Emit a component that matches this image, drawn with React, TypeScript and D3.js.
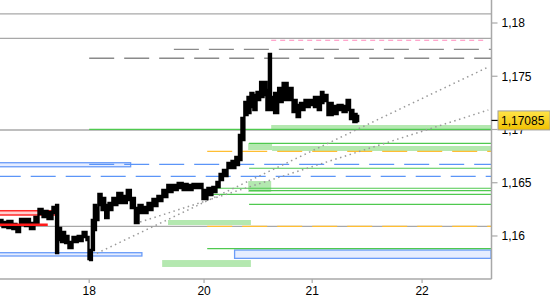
import React from 'react';
import * as d3 from 'd3';

const W = 550;
const H = 300;

// price series (hours from left edge, high / low)
const hours = [0.0,1.1,2.2,3.3,4.0,4.9,6.2,7.1,8.2,8.9,10.0,11.1,12.2,12.7,13.1,14.0,14.9,15.5,16.7,17.8,18.9,19.5,19.8,20.2,20.6,21.1,21.5,22.2,22.9,23.8,24.4,25.5,26.6,27.7,28.6,29.5,30.4,31.1,32.2,33.3,34.4,35.5,36.6,37.7,38.9,40.0,41.1,42.2,43.3,44.4,45.5,46.6,47.7,48.4,49.1,49.9,51.1,51.7,52.8,53.3,53.9,54.6,55.3,55.9,56.6,57.3,58.2,58.8,59.5,59.9,60.4,61.3,62.2,63.3,64.4,65.5,66.2,67.0,68.2,69.3,70.1,71.0,71.5,72.1,73.3,74.4,75.5,76.6,77.3,78.1,78.8,79.5];
const highs = [1.16150,1.16131,1.16141,1.16112,1.16094,1.16159,1.16159,1.16122,1.16178,1.16253,1.16234,1.16225,1.16272,1.16291,1.16075,1.16037,1.16000,1.15943,1.15990,1.16000,1.16037,1.15990,1.15859,1.15868,1.16150,1.16291,1.16263,1.16394,1.16357,1.16291,1.16310,1.16357,1.16404,1.16375,1.16432,1.16357,1.16263,1.16291,1.16272,1.16310,1.16347,1.16375,1.16432,1.16479,1.16479,1.16497,1.16488,1.16479,1.16488,1.16488,1.16432,1.16451,1.16460,1.16507,1.16582,1.16620,1.16685,1.16704,1.16742,1.16948,1.17108,1.17258,1.17305,1.17343,1.17324,1.17352,1.17446,1.17446,1.17371,1.17709,1.17305,1.17343,1.17390,1.17437,1.17390,1.17277,1.17230,1.17249,1.17277,1.17277,1.17305,1.17305,1.17352,1.17324,1.17249,1.17221,1.17230,1.17221,1.17277,1.17183,1.17145,1.17127];
const lows = [1.16103,1.16084,1.16075,1.16065,1.16037,1.16103,1.16094,1.16065,1.16122,1.16206,1.16178,1.16159,1.16216,1.15840,1.15962,1.15943,1.15934,1.15887,1.15943,1.15953,1.15990,1.15962,1.15784,1.15774,1.15868,1.16056,1.16150,1.16291,1.16244,1.16169,1.16244,1.16291,1.16310,1.16310,1.16338,1.16263,1.16122,1.16216,1.16216,1.16244,1.16281,1.16329,1.16366,1.16413,1.16432,1.16451,1.16432,1.16432,1.16451,1.16451,1.16347,1.16385,1.16413,1.16460,1.16526,1.16563,1.16638,1.16638,1.16666,1.16713,1.16901,1.17136,1.17155,1.17211,1.17183,1.17277,1.17305,1.17324,1.17183,1.17202,1.17183,1.17155,1.17258,1.17277,1.17277,1.17164,1.17117,1.17183,1.17211,1.17230,1.17211,1.17183,1.17249,1.17268,1.17136,1.17145,1.17183,1.17164,1.17183,1.17099,1.17070,1.17080];

const yTickValues = [1.16, 1.165, 1.17, 1.175, 1.18];
const yTickLabels = ['1,16', '1,165', '1,17', '1,175', '1,18'];
const xTickHours = [19.8, 45.3, 69.3, 93.7];
const xTickLabels = ['18', '20', '21', '22'];

const lastPrice = 1.17085;
const lastPriceLabel = '1,17085';

// full-width gray levels
const grayLevels = [1.18085, 1.17856, 1.16995, 1.16091];

// solid green levels
const greenLineStart = [19.8, 55.3, 55.3, 46.0, 55.3, 46.0, 55.3, 46.0];
const greenLinePrice = [1.17002, 1.16870, 1.16636, 1.16448, 1.16425, 1.16391, 1.16297, 1.15882];

// light green zones
const greenZoneStart = [60.2, 55.1, 60.4, 55.1, 37.3, 36.0];
const greenZoneEnd = [109, 60.4, 109, 60.2, 55.7, 55.7];
const greenZoneTop = [1.17042, 1.16873, 1.16845, 1.16516, 1.16150, 1.15774];
const greenZoneBottom = [1.17005, 1.16807, 1.16798, 1.16413, 1.16103, 1.15709];

// blue zones
const blueZoneStart = [0, 0, 52.3];
const blueZoneEnd = [29.0, 31.5, 109];
const blueZoneTop = [1.16688, 1.15843, 1.15868];
const blueZoneBottom = [1.16650, 1.15812, 1.15790];

// blue dashed levels
const blueDashStart = [19.8, 0];
const blueDashPrice = [1.16673, 1.16560];
const blueDashOffset = [0, 4.3];

// dark gray dashed levels
const grayDashStart = [38.6, 19.8];
const grayDashPrice = [1.17753, 1.17669];

// pink dashed level
const pinkDashStart = 60.2;
const pinkDashEnd = 108.0;
const pinkDashPrice = 1.17838;

// orange dashed levels
const orangeDashStart = [46.0, 46.0];
const orangeDashPrice = [1.16795, 1.16091];

// red zone and red level
const redZone = { start: 0, end: 12.4, top: 1.16237, bottom: 1.16197 };
const redLine = { start: 0, end: 10.6, price: 1.16106 };

// dotted trend lines
const trendStartHour = [21.5, 31.1];
const trendStartPrice = [1.15837, 1.16131];
const trendEndHour = [108.4, 108.4];
const trendEndPrice = [1.17587, 1.17183];

const FONT = 'Liberation Sans, Arial, sans-serif';

export default function App() {
  const x = d3.scaleLinear().domain([0, 109]).range([0, 491]);
  const y = d3.scaleLinear().domain([1.15596, 1.18216]).range([279, 0]);
  const axisX = x(109) + 0.5;
  const axisY = y(1.15596);
  const idx = hours.map((_, i) => i);
  const area = d3
    .area<number>()
    .curve(d3.curveStep)
    .x((i) => x(hours[i]))
    .y0((i) => y(lows[i]))
    .y1((i) => y(highs[i]));
  const xEnd = x(109);
  const py = y(lastPrice);

  return (
    <svg width={W} height={H} style={{ position: 'absolute', left: 0, top: 0, background: '#fff' }}>
      <defs>
        <linearGradient id="gold" x1="0" y1="0" x2="0" y2="1">
          <stop offset="0" stopColor="#ffe44a" />
          <stop offset="1" stopColor="#f0c000" />
        </linearGradient>
      </defs>
      <rect x={0} y={0} width={W} height={H} fill="#fff" />

      {greenZoneStart.map((s, i) => (
        <rect key={'gz' + i} x={x(s)} y={y(greenZoneTop[i])} width={x(greenZoneEnd[i]) - x(s)}
          height={y(greenZoneBottom[i]) - y(greenZoneTop[i])} fill="#b4e8b0" />
      ))}

      {blueZoneStart.map((s, i) => (
        <rect key={'bz' + i} x={x(s) - 1} y={y(blueZoneTop[i])} width={x(blueZoneEnd[i]) - x(s) + 1}
          height={y(blueZoneBottom[i]) - y(blueZoneTop[i])} fill="#e6edff" stroke="#6a9cf8" strokeWidth={1.3} />
      ))}

      {grayLevels.map((p, i) => (
        <line key={'gl' + i} x1={0} x2={xEnd} y1={y(p)} y2={y(p)} stroke="#a8a8a8" strokeWidth={1.3} />
      ))}

      {greenLinePrice.map((p, i) => (
        <line key={'gr' + i} x1={x(greenLineStart[i])} x2={xEnd} y1={y(p)} y2={y(p)} stroke="#4fc94f" strokeWidth={1.2} />
      ))}

      {blueDashPrice.map((p, i) => (
        <line key={'bd' + i} x1={x(blueDashStart[i])} x2={xEnd} y1={y(p)} y2={y(p)} stroke="#5b95f8"
          strokeWidth={1.3} strokeDasharray="25,10" strokeDashoffset={blueDashOffset[i]} />
      ))}

      {grayDashPrice.map((p, i) => (
        <line key={'dd' + i} x1={x(grayDashStart[i])} x2={xEnd} y1={y(p)} y2={y(p)} stroke="#8a8a8a"
          strokeWidth={1.3} strokeDasharray="25,10" />
      ))}

      <line x1={x(pinkDashStart)} x2={x(pinkDashEnd)} y1={y(pinkDashPrice)} y2={y(pinkDashPrice)}
        stroke="#ff88bb" strokeWidth={1.2} strokeDasharray="5,4" />

      {orangeDashPrice.map((p, i) => (
        <line key={'od' + i} x1={x(orangeDashStart[i])} x2={xEnd} y1={y(p)} y2={y(p)} stroke="#ffbe33"
          strokeWidth={1.3} strokeDasharray="25,10" />
      ))}

      <rect x={x(redZone.start) - 1} y={y(redZone.top)} width={x(redZone.end) - x(redZone.start) + 1}
        height={y(redZone.bottom) - y(redZone.top)} fill="#ffd0d0" stroke="#ff2a2a" strokeWidth={1.5} />

      {trendStartHour.map((h, i) => (
        <line key={'tr' + i} x1={x(h)} y1={y(trendStartPrice[i])} x2={x(trendEndHour[i])} y2={y(trendEndPrice[i])}
          stroke="#999" strokeWidth={1.5} strokeDasharray="1.5,3.5" />
      ))}

      <path d={area(idx) || ''} fill="#000" stroke="#000" strokeWidth={2.4} strokeLinejoin="miter" />

      <line x1={x(redLine.start)} x2={x(redLine.end)} y1={y(redLine.price)} y2={y(redLine.price)} stroke="#ff1a1a" strokeWidth={2.5} />

      <line x1={axisX} x2={axisX} y1={0} y2={axisY} stroke="#a8a8a8" strokeWidth={1.5} />
      <line x1={0} x2={axisX} y1={axisY} y2={axisY} stroke="#a8a8a8" strokeWidth={1.5} />
      {yTickValues.map((v, i) => (
        <g key={'yt' + i}>
          <line x1={axisX} x2={axisX + 6} y1={y(v)} y2={y(v)} stroke="#a8a8a8" strokeWidth={1.2} />
          <text x={axisX + 10} y={y(v)} dy="0.36em" fontFamily={FONT} fontSize={12} fill="#000">{yTickLabels[i]}</text>
        </g>
      ))}
      {xTickHours.map((h, i) => (
        <g key={'xt' + i}>
          <line x1={x(h)} x2={x(h)} y1={axisY} y2={axisY + 4} stroke="#a8a8a8" strokeWidth={1.2} />
          <text x={x(h)} y={axisY + 16} textAnchor="middle" fontFamily={FONT} fontSize={12} fill="#000">{xTickLabels[i]}</text>
        </g>
      ))}

      <line x1={axisX} x2={axisX + 7} y1={py} y2={py} stroke="#000" strokeWidth={1.2} />
      <rect x={498} y={py - 9.5} width={52} height={19} fill="url(#gold)" stroke="#a0a0a0" strokeWidth={1} />
      <text x={501} y={py} dy="0.36em" fontFamily={FONT} fontSize={12} fill="#000">{lastPriceLabel}</text>
    </svg>
  );
}
